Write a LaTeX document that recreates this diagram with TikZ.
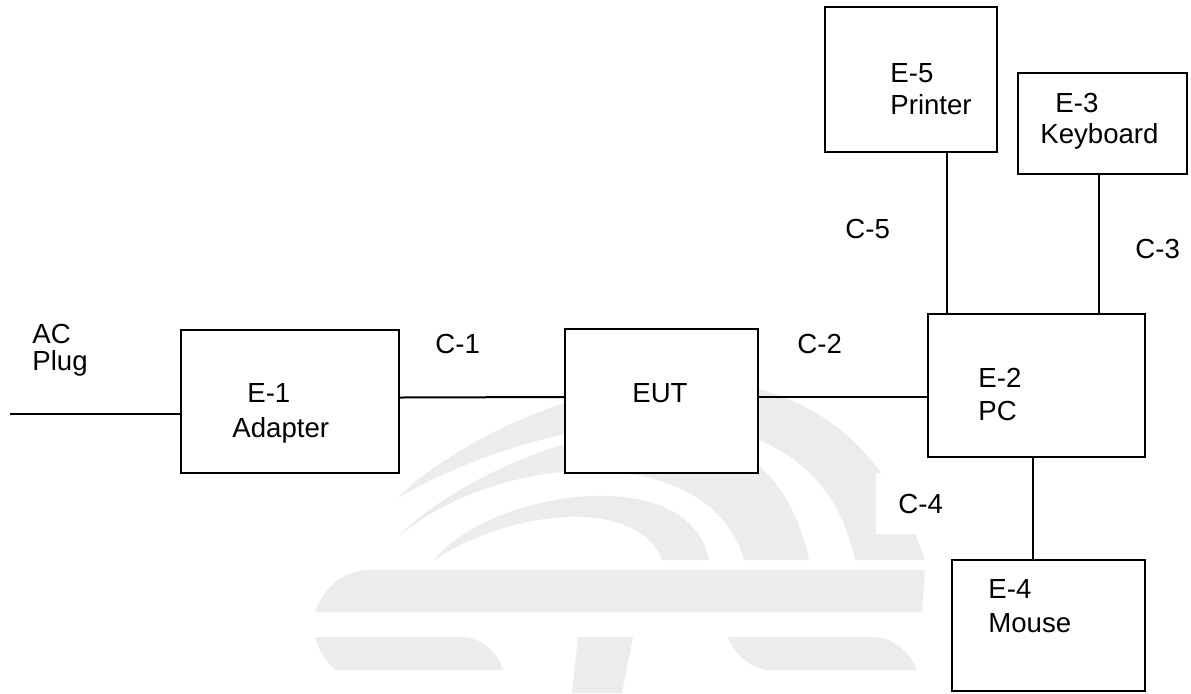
\documentclass[tikz,border=0pt]{standalone}
\usepackage{fontspec}
\setmainfont{Liberation Sans}
\definecolor{wmgray}{rgb}{0.925,0.925,0.925}
\tikzset{
  box/.style={draw, fill=white, line width=1pt, inner sep=0pt},
  txt/.style={anchor=base west, inner sep=0pt},
  wire/.style={line width=1pt},
}

\begin{document}
\begin{tikzpicture}[x=0.5pt, y=-0.5pt, font=\fontsize{13.8}{16}\selectfont]
	\useasboundingbox (0,0) rectangle (1191,693);
	%Marca d'agua
	\fill[wmgray] (398,498) .. controls (470,420) and (820,250) .. (925,560) -- (855,560) .. controls (810,350) and (520,425) .. (398,498) -- cycle;
	\fill[wmgray] (398,537) .. controls (470,460) and (760,330) .. (809,560) -- (744,560) .. controls (710,440) and (500,450) .. (398,537) -- cycle;
	\fill[wmgray] (434,560) .. controls (490,490) and (690,460) .. (709,560) -- (662,560) .. controls (640,500) and (520,505) .. (434,560) -- cycle;
	\fill[wmgray] (315,612) .. controls (325,585) and (345,570) .. (370,570) -- (925,570) -- (922,612) -- cycle;
	\fill[wmgray] (315,637) -- (460,637) .. controls (485,637) and (498,655) .. (503,670) -- (335,670) .. controls (325,660) and (318,648) .. (315,637) -- cycle;
	\fill[wmgray] (578,637) -- (633,637) -- (622,693) -- (572,693) -- cycle;
	\fill[wmgray] (728,637) -- (873,637) .. controls (895,637) and (912,655) .. (917,670) -- (765,670) .. controls (745,665) and (732,650) .. (728,637) -- cycle;

	%Caixas
	\node[box, minimum width=109pt, minimum height=71.5pt] (adapter) at (290,401.5) {};
	\node[box, minimum width=96.5pt, minimum height=72pt] (eut) at (661.5,401) {};
	\node[box, minimum width=108.5pt, minimum height=71.5pt] (pc) at (1036.5,385.5) {};
	\node[box, minimum width=86pt, minimum height=72.5pt] (printer) at (911,79.5) {};
	\node[box, minimum width=84.5pt, minimum height=50.5pt] (keyboard) at (1102.5,123.5) {};
	\node[box, minimum width=96.5pt, minimum height=65.5pt] (mouse) at (1048.5,625.5) {};

	%Cabos
	\coordinate (plug) at (10,414);
	\draw[wire] (plug) -- (plug -| adapter.west);
	\draw[wire] ([yshift=2pt]adapter.east) -- ([yshift=2pt]eut.west);
	\draw[wire] ([yshift=2pt]eut.east) -- ([yshift=2pt]eut.east -| pc.west);
	\draw[wire] ([xshift=18pt]printer.south) -- ([xshift=18pt]printer.south |- pc.north);
	\draw[wire] ([xshift=-1.75pt]keyboard.south) -- ([xshift=-1.75pt]keyboard.south |- pc.north);
	\draw[wire] ([xshift=-2pt]pc.south) -- ([xshift=-2pt]pc.south |- mouse.north);

	%Textos
	\node[txt] (ac) at (32,343) {AC};
	\node[txt] (plugtxt) at (32,370) {Plug};
	\node[txt] (e1) at (247,402) {E-1};
	\node[txt] (adaptertxt) at (232,437) {Adapter};
	\node[txt] (euttxt) at (632,402) {EUT};
	\node[txt] (c1) at (435,353) {C-1};
	\node[txt] (c2) at (797,353) {C-2};
	\node[txt] (e5) at (890,82) {E-5};
	\node[txt] (printertxt) at (890,114) {Printer};
	\node[txt] (e3) at (1055,112) {E-3};
	\node[txt] (keyboardtxt) at (1040,143) {Keyboard};
	\node[txt] (c5) at (845,238) {C-5};
	\node[txt] (c3) at (1135,258) {C-3};
	\node[txt] (e2) at (978,387) {E-2};
	\node[txt] (pctxt) at (978,420) {PC};
	\node[txt, fill=white, inner xsep=11pt, inner ysep=10.5pt] (c4) at (876,513) {C-4};
	\node[txt] (e4) at (988,598) {E-4};
	\node[txt] (mousetxt) at (988,632) {Mouse};
\end{tikzpicture}
\end{document}
